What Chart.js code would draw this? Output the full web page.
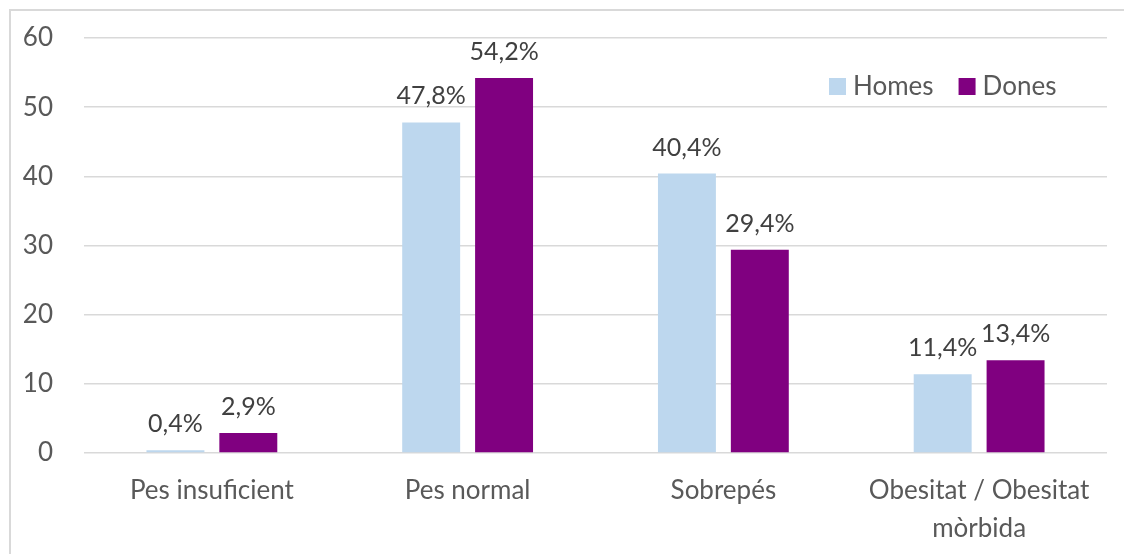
<!DOCTYPE html>
<html>
<head>
<meta charset="utf-8">
<script src="https://cdn.jsdelivr.net/npm/chart.js@4/dist/chart.umd.min.js"></script>
<style>
  html, body { margin: 0; padding: 0; background: #fff; overflow: hidden; }
  #wrap { position: relative; width: 1124px; height: 554px; }
  #frame { position: absolute; left: 9px; top: 9px; width: 1200px; height: 600px;
           border-left: 2px solid #d9d9d9; border-top: 2px solid #d9d9d9; pointer-events: none; }
</style>
</head>
<body>
<div id="wrap">
  <canvas id="chart" width="1124" height="554"></canvas>
  <div id="frame"></div>
</div>
<script>
const categories = ['Pes insuficient', 'Pes normal', 'Sobrepés', ['Obesitat / Obesitat', 'mòrbida']];
const seriesNames = ['Homes', 'Dones'];
const homes = [0.4, 47.8, 40.4, 11.4];
const dones = [2.9, 54.2, 29.4, 13.4];
const yTicks = [0, 10, 20, 30, 40, 50, 60];

const FONT = 'Lato, "Open Sans", sans-serif';
const colors = ['#BDD7EE', '#800080'];

// value labels over each bar, "47,8%" style
const barLabels = {
  id: 'barLabels',
  afterDatasetsDraw(chart) {
    const ctx = chart.ctx;
    ctx.save();
    ctx.font = '25px ' + FONT;
    ctx.fillStyle = '#404040';
    ctx.textAlign = 'center';
    ctx.textBaseline = 'alphabetic';
    chart.data.datasets.forEach((ds, i) => {
      chart.getDatasetMeta(i).data.forEach((bar, j) => {
        const txt = ds.data[j].toFixed(1).replace('.', ',') + '%';
        ctx.fillText(txt, bar.x, bar.y - 18);
      });
    });
    ctx.restore();
  }
};

// legend inside the plot, top right
const innerLegend = {
  id: 'innerLegend',
  afterDraw(chart) {
    const ctx = chart.ctx;
    const area = chart.chartArea;
    ctx.save();
    ctx.font = '26px ' + FONT;
    ctx.textBaseline = 'middle';
    let x = area.right - 278;
    const y = area.top + 48;
    chart.data.datasets.forEach(ds => {
      ctx.fillStyle = ds.backgroundColor;
      ctx.fillRect(x, y - 8, 17, 17);
      ctx.fillStyle = '#595959';
      ctx.fillText(ds.label, x + 24, y + 1);
      x += 24 + ctx.measureText(ds.label).width + 25;
    });
    ctx.restore();
  }
};

new Chart(document.getElementById('chart'), {
  type: 'bar',
  data: {
    labels: categories,
    datasets: [
      { label: seriesNames[0], data: homes, backgroundColor: colors[0] },
      { label: seriesNames[1], data: dones, backgroundColor: colors[1] }
    ]
  },
  options: {
    responsive: false,
    animation: false,
    categoryPercentage: 0.57,
    barPercentage: 0.795,
    layout: { padding: { left: 0, top: 38, right: 17, bottom: 0 } },
    plugins: {
      legend: { display: false },
      tooltip: { enabled: false }
    },
    scales: {
      x: {
        grid: { display: false },
        border: { display: false },
        ticks: { color: '#595959', padding: 11, maxRotation: 0,
                 font: { family: FONT, size: 26, lineHeight: 1.45 } },
        afterFit: s => { s.height = 101; s.paddingLeft = 0; s.paddingRight = 0; }
      },
      y: {
        min: 0,
        max: 60,
        afterBuildTicks: s => { s.ticks = yTicks.map(v => ({ value: v })); },
        grid: { color: '#d9d9d9', lineWidth: 1.5, drawTicks: false },
        border: { display: false },
        ticks: { color: '#595959', padding: 31,
                 font: { family: FONT, size: 26 } },
        afterFit: s => { s.width = 84; s.paddingTop = 0; s.paddingBottom = 0; }
      }
    }
  },
  plugins: [barLabels, innerLegend]
});
</script>
</body>
</html>
